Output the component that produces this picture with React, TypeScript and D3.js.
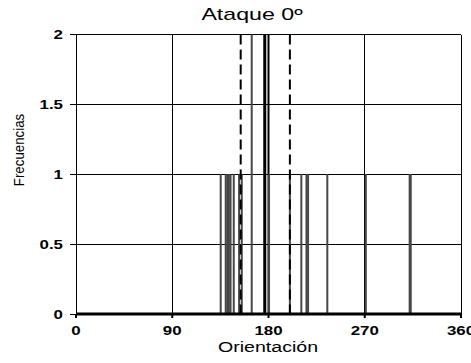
import { useEffect, useRef } from "react";
import * as d3 from "d3";

// orientation (deg) and frequency of each observation
const orientations = [
  135.3, 140, 141.5, 143, 144.5, 147.5, 152.5, 155, 164.3, 180.5, 200, 210.7,
  215.5, 217, 235, 271, 312, 313,
];
const frequencies = [1, 1, 1, 1, 1, 1, 1, 1, 2, 1, 1, 1, 1, 1, 1, 1, 1, 1];

const xTicks = [0, 90, 180, 270, 360];
const yTicks = [0, 0.5, 1, 1.5, 2];

// reference lines: mean / median (solid) and mean ± sd (dashed)
const solidLines = [176.5, 180];
const solidWidths = [3, 2];
const dashedLines = [154, 200];

export default function App() {
  const svgRef = useRef<SVGSVGElement>(null);

  useEffect(() => {
    if (!svgRef.current) return;
    const svg = d3.select(svgRef.current);
    svg.selectAll("*").remove();

    const W = 471;
    const H = 363;
    const x = d3.scaleLinear().domain([0, 360]).range([76, 461]);
    const y = d3.scaleLinear().domain([0, 2]).range([314, 34.5]);
    const font = "Arial, 'Liberation Sans', sans-serif";

    svg.append("rect").attr("width", W).attr("height", H).attr("fill", "#fff");

    const g = svg.append("g");

    // horizontal gridlines
    g.selectAll(".hgrid")
      .data(yTicks.filter((d) => d > 0))
      .join("line")
      .attr("x1", x(0))
      .attr("x2", x(360))
      .attr("y1", (d) => y(d))
      .attr("y2", (d) => y(d))
      .attr("stroke", "#000")
      .attr("stroke-width", 1)
      .attr("shape-rendering", "crispEdges");

    // vertical gridlines
    g.selectAll(".vgrid")
      .data(xTicks.filter((d) => d > 0))
      .join("line")
      .attr("x1", (d) => x(d))
      .attr("x2", (d) => x(d))
      .attr("y1", y(2))
      .attr("y2", y(0))
      .attr("stroke", "#000")
      .attr("stroke-width", 1)
      .attr("shape-rendering", "crispEdges");

    // solid reference lines
    solidLines.forEach((v, i) => {
      g.append("line")
        .attr("x1", x(v))
        .attr("x2", x(v))
        .attr("y1", y(2))
        .attr("y2", y(0))
        .attr("stroke", "#000")
        .attr("stroke-width", solidWidths[i]);
    });

    // bars
    orientations.forEach((o, i) => {
      g.append("line")
        .attr("x1", x(o))
        .attr("x2", x(o))
        .attr("y1", y(0))
        .attr("y2", y(frequencies[i]))
        .attr("stroke", "#474747")
        .attr("stroke-width", 2);
    });

    // dashed reference lines
    dashedLines.forEach((v) => {
      g.append("line")
        .attr("x1", x(v))
        .attr("x2", x(v))
        .attr("y1", y(2))
        .attr("y2", y(0))
        .attr("stroke", "#000")
        .attr("stroke-width", 2)
        .attr("stroke-dasharray", "10,5");
    });

    // left axis
    g.append("line")
      .attr("x1", x(0))
      .attr("x2", x(0))
      .attr("y1", y(2))
      .attr("y2", y(0))
      .attr("stroke", "#000")
      .attr("stroke-width", 1)
      .attr("shape-rendering", "crispEdges");

    yTicks.forEach((t) => {
      g.append("line")
        .attr("x1", x(0) - 6)
        .attr("x2", x(0))
        .attr("y1", y(t))
        .attr("y2", y(t))
        .attr("stroke", "#000")
        .attr("stroke-width", 1)
        .attr("shape-rendering", "crispEdges");
      g.append("text")
        .attr("transform", `translate(63,${y(t)}) scale(1.3,1)`)
        .attr("text-anchor", "end")
        .attr("dominant-baseline", "central")
        .attr("font-family", font)
        .attr("font-weight", "bold")
        .attr("font-size", 13)
        .text(String(t));
    });

    // bottom axis
    g.append("line")
      .attr("x1", x(0))
      .attr("x2", x(360))
      .attr("y1", y(0))
      .attr("y2", y(0))
      .attr("stroke", "#000")
      .attr("stroke-width", 3);

    xTicks.forEach((t) => {
      g.append("line")
        .attr("x1", x(t))
        .attr("x2", x(t))
        .attr("y1", y(0))
        .attr("y2", y(0) + 4)
        .attr("stroke", "#000")
        .attr("stroke-width", 2);
      g.append("text")
        .attr("transform", `translate(${x(t)},${y(0) + 21}) scale(1.3,1)`)
        .attr("text-anchor", "middle")
        .attr("font-family", font)
        .attr("font-weight", "bold")
        .attr("font-size", 13)
        .text(String(t));
    });

    // titles
    svg.append("text")
      .attr("transform", `translate(252,20) scale(1.45,1)`)
      .attr("text-anchor", "middle")
      .attr("font-family", font)
      .attr("font-size", 16)
      .text("Ataque 0º");

    svg.append("text")
      .attr("transform", `translate(268,352) scale(1.4,1)`)
      .attr("text-anchor", "middle")
      .attr("font-family", font)
      .attr("font-size", 14)
      .text("Orientación");

    svg.append("text")
      .attr("transform", `translate(24,150) rotate(-90) scale(0.95,1)`)
      .attr("text-anchor", "middle")
      .attr("font-family", font)
      .attr("font-size", 14)
      .text("Frecuencias");
  }, []);

  return (
    <svg
      ref={svgRef}
      width={471}
      height={363}
      style={{ position: "absolute", left: 0, top: 0 }}
    />
  );
}
